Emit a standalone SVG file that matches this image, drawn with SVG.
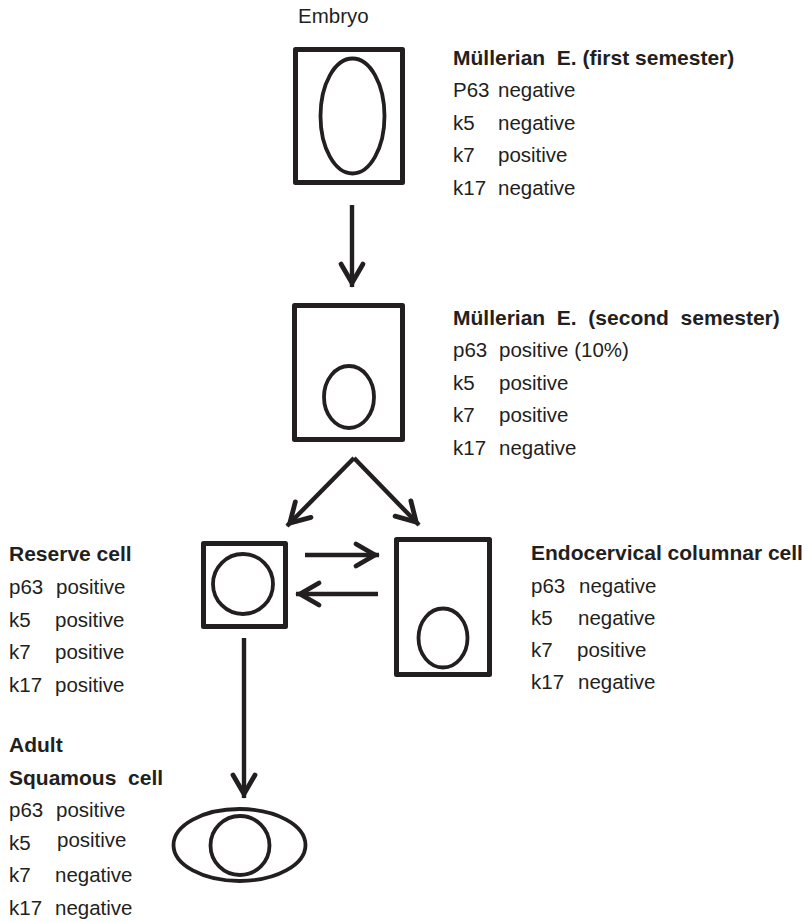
<svg xmlns="http://www.w3.org/2000/svg" width="807" height="922" viewBox="0 0 807 922">
<style>
  text { font-family: "Liberation Sans", Arial, sans-serif; font-size: 20.5px; fill: #231f20; }
  .b { font-weight: bold; font-size: 21px; }
  .box { fill: none; stroke: #231f20; stroke-width: 5; stroke-linejoin: round; }
  .nuc { fill: none; stroke: #231f20; stroke-width: 3.8; }
  .con { fill: none; stroke: #231f20; stroke-width: 4.4; marker-end: url(#ah); }
</style>
<defs>
  <marker id="ah" viewBox="-28 -15 33 30" markerWidth="33" markerHeight="30" refX="0" refY="0" orient="auto" markerUnits="userSpaceOnUse">
    <path d="M-23,-11 L-4,0 L-23,11" fill="none" stroke="#231f20" stroke-width="4.8" stroke-linejoin="miter" stroke-linecap="round"/>
  </marker>
</defs>
<rect width="807" height="922" fill="#ffffff"/>

<text x="298" y="23">Embryo</text>

<g id="embryo-cell">
  <rect class="box" x="295.5" y="49.5" width="107" height="133"/>
  <ellipse class="nuc" cx="352.5" cy="116" rx="32" ry="57.5"/>
</g>
<g id="embryo-label">
  <text class="b" x="453" y="65" xml:space="preserve">Müllerian  E. (first semester)</text>
  <text x="453" y="97">P63</text><text x="498" y="97">negative</text>
  <text x="453" y="130">k5</text><text x="498" y="130">negative</text>
  <text x="453" y="162">k7</text><text x="498" y="162">positive</text>
  <text x="453" y="195">k17</text><text x="498" y="195">negative</text>
</g>

<g id="second-cell">
  <rect class="box" x="294.5" y="305.5" width="108" height="134"/>
  <ellipse class="nuc" cx="349" cy="397" rx="25" ry="31"/>
</g>
<g id="second-label">
  <text class="b" x="453" y="325" xml:space="preserve">Müllerian  E.  (second  semester)</text>
  <text x="453" y="357">p63</text><text x="499" y="357">positive (10%)</text>
  <text x="453" y="390">k5</text><text x="499" y="390">positive</text>
  <text x="453" y="422">k7</text><text x="499" y="422">positive</text>
  <text x="453" y="455">k17</text><text x="499" y="455">negative</text>
</g>

<g id="reserve-cell">
  <rect class="box" x="203.5" y="543.5" width="82" height="83"/>
  <circle class="nuc" cx="243" cy="584" r="30"/>
</g>
<g id="reserve-label">
  <text class="b" x="9" y="561">Reserve cell</text>
  <text x="9" y="594">p63</text><text x="56" y="594">positive</text>
  <text x="9" y="627">k5</text><text x="55" y="627">positive</text>
  <text x="9" y="659">k7</text><text x="55" y="659">positive</text>
  <text x="9" y="692">k17</text><text x="55" y="692">positive</text>
</g>

<g id="endocervical-cell">
  <rect class="box" x="396.5" y="539.5" width="93" height="135"/>
  <ellipse class="nuc" cx="443" cy="638" rx="24.5" ry="29.5"/>
</g>
<g id="endocervical-label">
  <text class="b" x="531" y="560">Endocervical columnar cell</text>
  <text x="531" y="593">p63</text><text x="579" y="593">negative</text>
  <text x="531" y="625">k5</text><text x="578" y="625">negative</text>
  <text x="531" y="657">k7</text><text x="577" y="657">positive</text>
  <text x="531" y="689">k17</text><text x="578" y="689">negative</text>
</g>

<g id="squamous-cell">
  <ellipse class="nuc" cx="239.5" cy="845" rx="66" ry="36"/>
  <circle class="nuc" cx="240" cy="845.5" r="29.5"/>
</g>
<g id="squamous-label">
  <text class="b" x="9" y="752">Adult</text>
  <text class="b" x="9" y="785" xml:space="preserve">Squamous  cell</text>
  <text x="9" y="817">p63</text><text x="56" y="817">positive</text>
  <text x="9" y="850">k5</text><text x="57" y="847">positive</text>
  <text x="9" y="882">k7</text><text x="55" y="882">negative</text>
  <text x="9" y="915">k17</text><text x="55" y="915">negative</text>
</g>

<g id="connectors">
  <path class="con" d="M352,205 L352,287"/>
  <path class="con" d="M354,458 L287,526"/>
  <path class="con" d="M354,458 L419,525"/>
  <path class="con" d="M305,555 L379,555"/>
  <path class="con" d="M378,594 L296,594"/>
  <path class="con" d="M244,638 L244,798"/>
</g>
</svg>
